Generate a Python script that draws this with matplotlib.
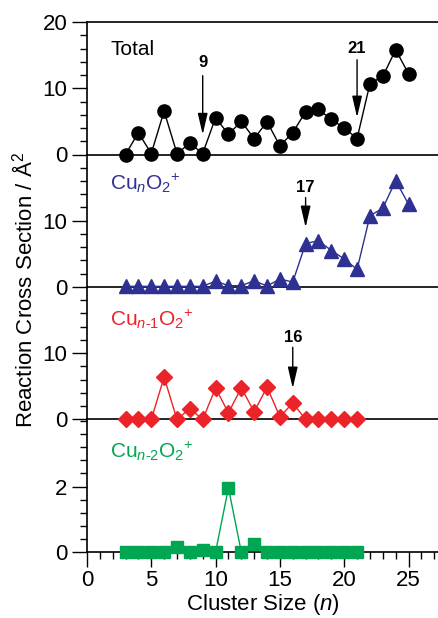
import numpy as np
import matplotlib.pyplot as plt
from matplotlib.ticker import MultipleLocator, FixedLocator

plt.rcParams['font.family'] = 'Liberation Sans'
plt.rcParams['mathtext.fontset'] = 'custom'
plt.rcParams['mathtext.rm'] = 'Liberation Sans'
plt.rcParams['mathtext.it'] = 'Liberation Sans:italic'
plt.rcParams['mathtext.bf'] = 'Liberation Sans:bold'

# cluster sizes
n_all = np.arange(3, 26)
n_sub = np.arange(3, 22)

total = [0.0, 3.3, 0.15, 6.55, 0.15, 1.7, 0.15, 5.55, 3.05, 5.0, 2.4, 4.95,
         1.3, 3.3, 6.45, 6.8, 5.3, 4.0, 2.4, 10.7, 11.8, 15.8, 12.2]
cun = [0.1, 0.1, 0.1, 0.1, 0.1, 0.1, 0.1, 0.9, 0.2, 0.2, 0.95, 0.15,
       1.2, 0.75, 6.55, 7.0, 5.5, 4.25, 2.65, 10.75, 11.9, 16.05, 12.5]
cun1 = [0.0, 0.0, 0.0, 6.4, 0.0, 1.65, 0.0, 4.75, 1.0, 4.8, 1.15, 4.9,
        0.4, 2.5, 0.0, 0.0, 0.0, 0.0, 0.0]
cun2 = [0.0, 0.0, 0.0, 0.0, 0.14, 0.0, 0.06, 0.0, 1.96, 0.0, 0.25, 0.0,
        0.0, 0.0, 0.0, 0.0, 0.0, 0.0, 0.0]

labels = ['Total', r'Cu$_{\mathit{n}}$O$_{2}{}^{+}$',
          r'Cu$_{\mathit{n}\text{-}1}$O$_{2}{}^{+}$',
          r'Cu$_{\mathit{n}\text{-}2}$O$_{2}{}^{+}$']
colors = ['black', '#2e3192', '#ec2329', '#00a651']
markers = ['o', '^', 'D', 's']
msizes = [9.5, 10, 8.5, 8.5]

fig = plt.figure(figsize=(4.39, 6.18), dpi=100)
gs = fig.add_gridspec(4, 1, left=0.198, right=0.998, top=0.9644, bottom=0.1068,
                      hspace=0)
axes = [fig.add_subplot(gs[i]) for i in range(4)]

series = [(n_all, total), (n_all, cun), (n_sub, cun1), (n_sub, cun2)]

for i, ax in enumerate(axes):
    x, y = series[i]
    ax.patch.set_visible(False)
    ax.plot(x, y, color=colors[i], lw=1, marker=markers[i], ms=msizes[i],
            mec=colors[i], mfc=colors[i], clip_on=False, zorder=3)
    ax.set_xlim(0, 27.3)
    ax.spines['right'].set_visible(False)
    if i > 0:
        ax.spines['top'].set_visible(False)
    for s in ['bottom', 'left', 'top']:
        ax.spines[s].set_linewidth(1.2)
    ax.tick_params(axis='y', which='major', direction='out', length=11,
                   width=1, labelsize=16, pad=3)
    ax.tick_params(axis='y', which='minor', direction='out', length=5, width=1)
    ax.xaxis.set_major_locator(MultipleLocator(5))
    ax.xaxis.set_minor_locator(MultipleLocator(1))
    if i < 3:
        ax.tick_params(axis='x', which='both', bottom=False, labelbottom=False)
        ax.set_ylim(0, 20)
        ax.yaxis.set_minor_locator(FixedLocator(np.arange(2, 20, 2)))
        if i == 0:
            ax.yaxis.set_major_locator(FixedLocator([0, 10, 20]))
        else:
            ax.yaxis.set_major_locator(FixedLocator([0, 10]))
        ax.text(1.8, [15.8, 15.6, 15.1][i], labels[i], color=colors[i],
                fontsize=15, va='center', ha='left')
    else:
        ax.set_ylim(0, 4.05)
        ax.yaxis.set_major_locator(FixedLocator([0, 2]))
        ax.yaxis.set_minor_locator(FixedLocator(np.arange(0.4, 4.01, 0.4)))
        ax.tick_params(axis='x', which='major', direction='out', length=11,
                       width=1, labelsize=16, pad=2)
        ax.tick_params(axis='x', which='minor', direction='out', length=5,
                       width=1)
        ax.text(1.8, 3.08, labels[i], color=colors[i], fontsize=15,
                va='center', ha='left')
        ax.set_xlabel(r'Cluster Size ($\mathit{n}$)', fontsize=16, labelpad=1)

# arrows marking special sizes
arrows = [(0, 9, 11.9, 3.0, 13.9), (0, 21, 14.3, 5.6, 16.0),
          (1, 17, 13.5, 9.0, 15.0), (2, 16, 10.9, 4.7, 12.4)]
for idx, xn, y0, y1, ytxt in arrows:
    axes[idx].annotate('', xy=(xn, y1), xytext=(xn, y0),
                       arrowprops=dict(arrowstyle='-|>,head_length=1.3,head_width=0.3',
                                       color='black', lw=1, mutation_scale=10,
                                       shrinkA=0, shrinkB=0))
    axes[idx].text(xn, ytxt, str(xn), ha='center', va='center',
                   fontsize=12, fontweight='bold')

fig.text(0.057, 0.53, r'Reaction Cross Section / Å$^2$', rotation=90,
         fontsize=16, ha='center', va='center')

plt.savefig('out.png', dpi=100)
